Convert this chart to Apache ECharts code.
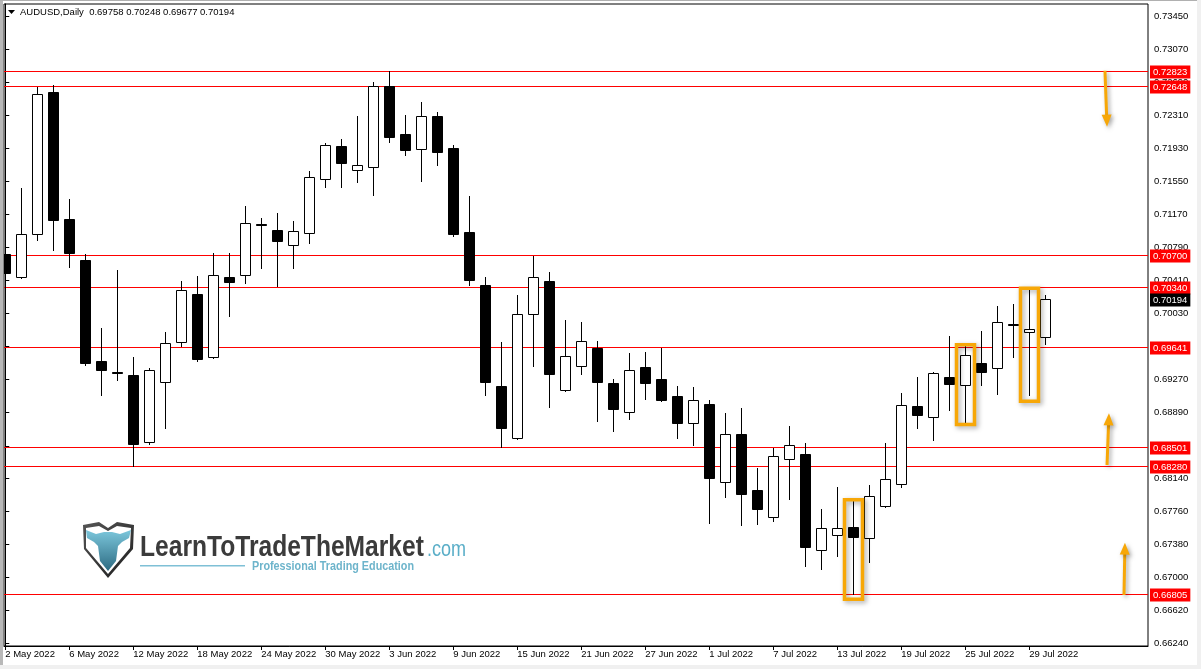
<!DOCTYPE html>
<html>
<head>
<meta charset="utf-8">
<script src="https://cdn.jsdelivr.net/npm/echarts@6.0.0/dist/echarts.min.js"></script>
<style>
html,body{margin:0;padding:0;background:#fff;}
#chart{width:1201px;height:669px;}
</style>
</head>
<body>
<div id="chart"></div>
<script>
// ---------------- data ----------------
const symbol = 'AUDUSD';
const timeframe = 'Daily';

const dates = [
  '2022-05-02','2022-05-03','2022-05-04','2022-05-05','2022-05-06','2022-05-09','2022-05-10','2022-05-11','2022-05-12','2022-05-13',
  '2022-05-16','2022-05-17','2022-05-18','2022-05-19','2022-05-20','2022-05-23','2022-05-24','2022-05-25','2022-05-26','2022-05-27',
  '2022-05-30','2022-05-31','2022-06-01','2022-06-02','2022-06-03','2022-06-06','2022-06-07','2022-06-08','2022-06-09','2022-06-10',
  '2022-06-13','2022-06-14','2022-06-15','2022-06-16','2022-06-17','2022-06-20','2022-06-21','2022-06-22','2022-06-23','2022-06-24',
  '2022-06-27','2022-06-28','2022-06-29','2022-06-30','2022-07-01','2022-07-04','2022-07-05','2022-07-06','2022-07-07','2022-07-08',
  '2022-07-11','2022-07-12','2022-07-13','2022-07-14','2022-07-15','2022-07-18','2022-07-19','2022-07-20','2022-07-21','2022-07-22',
  '2022-07-25','2022-07-26','2022-07-27','2022-07-28','2022-07-29','2022-08-01'
];

const opens = [
  0.70711,0.70447,0.70941,0.72576,0.71117,0.70645,0.69484,0.69355,0.69324,0.68550,
  0.69240,0.69699,0.70255,0.69527,0.70450,0.70470,0.71059,0.70990,0.70814,0.70952,
  0.71573,0.71956,0.71676,0.71718,0.72642,0.72094,0.71918,0.72301,0.71933,0.70967,
  0.70355,0.69197,0.68596,0.70021,0.70404,0.69148,0.69424,0.69637,0.69232,0.68895,
  0.69415,0.69278,0.69082,0.68768,0.68990,0.68088,0.68645,0.68002,0.67688,0.68362,
  0.68416,0.67309,0.67481,0.67576,0.67447,0.67814,0.68071,0.68967,0.68837,0.69301,
  0.69205,0.69462,0.69401,0.69913,0.69814,0.69758
];
const closes = [
  0.70499,0.70944,0.72553,0.71109,0.70729,0.69465,0.69384,0.69347,0.68534,0.69378,
  0.69688,0.70301,0.69511,0.70470,0.70396,0.71067,0.71044,0.70867,0.70975,0.71596,
  0.71964,0.71764,0.71734,0.72642,0.72063,0.71913,0.72297,0.71890,0.70948,0.70419,
  0.69247,0.68718,0.70021,0.70447,0.69332,0.69542,0.69711,0.69247,0.68936,0.69378,
  0.69235,0.69040,0.68775,0.69033,0.68143,0.68643,0.67959,0.67787,0.68389,0.68516,
  0.67350,0.67562,0.67562,0.67465,0.67929,0.68128,0.68975,0.68867,0.69343,0.69224,
  0.69550,0.69362,0.69929,0.69898,0.69856,0.70194
];
const lows = [
  0.70292,0.70440,0.70875,0.70760,0.70568,0.69442,0.69097,0.69270,0.68280,0.68527,
  0.68718,0.69660,0.69488,0.69515,0.70005,0.70384,0.70557,0.70347,0.70557,0.70844,
  0.71488,0.71488,0.71545,0.71396,0.72005,0.71856,0.71557,0.71741,0.70925,0.70362,
  0.69097,0.68501,0.68590,0.69431,0.68959,0.69140,0.69339,0.68798,0.68683,0.68821,
  0.69048,0.69028,0.68603,0.68519,0.67626,0.67925,0.67603,0.67611,0.67642,0.67902,
  0.67132,0.67097,0.67247,0.66805,0.67178,0.67805,0.68036,0.68718,0.68580,0.68925,
  0.68775,0.69212,0.69109,0.69534,0.69097,0.69677
];
const highs = [
  0.70818,0.71473,0.72637,0.72657,0.71347,0.70714,0.69864,0.70530,0.69530,0.69401,
  0.69818,0.70404,0.70462,0.70726,0.70726,0.71266,0.71128,0.71186,0.71094,0.71668,
  0.71990,0.72036,0.72301,0.72691,0.72823,0.72312,0.72462,0.72347,0.71967,0.71381,
  0.70450,0.69703,0.70243,0.70691,0.70507,0.69956,0.69933,0.69714,0.69278,0.69576,
  0.69588,0.69637,0.69197,0.69186,0.69036,0.68887,0.68944,0.68255,0.68481,0.68737,
  0.68542,0.67783,0.68036,0.67875,0.68056,0.68542,0.69113,0.69301,0.69355,0.69772,
  0.69657,0.69829,0.70113,0.70140,0.70301,0.70248
];

// horizontal levels drawn on the chart
const levels = [0.72823, 0.72648, 0.70700, 0.70340, 0.69641, 0.68501, 0.68280, 0.66805];
const currentPrice = 0.70194;

// price scale tick labels
const priceTicks = [0.66240,0.66620,0.67000,0.67380,0.67760,0.68140,0.68510,0.68890,0.69270,0.69650,
  0.70030,0.70410,0.70790,0.71170,0.71550,0.71930,0.72310,0.72690,0.73070,0.73450];
// date labels every 4 bars
const dateTickIdx = [0,4,8,12,16,20,24,28,32,36,40,44,48,52,56,60,64];

// annotation boxes: [bar index, top price, bottom price]
const boxes = [[53, 0.67889, 0.66747], [60, 0.69671, 0.68755], [64, 0.70321, 0.69022]];
// annotation arrows: [tail index, tail price, tip index, tip price]
const arrows = [
  [68.73, 0.72821, 68.86, 0.72178],
  [68.86, 0.68289, 68.98, 0.68883],
  [69.92, 0.66795, 69.98, 0.67396]
];

// ---------------- helpers ----------------
const MONTHS = ['Jan','Feb','Mar','Apr','May','Jun','Jul','Aug','Sep','Oct','Nov','Dec'];
function fmtDate(s){
  const p = s.split('-');
  return parseInt(p[2],10) + ' ' + MONTHS[parseInt(p[1],10)-1] + ' ' + p[0];
}
const FONT = 'Liberation Sans, Arial, sans-serif';
const ORANGE = '#f7a707';

const candleData = dates.map((d,i)=>[i, opens[i], closes[i], lows[i], highs[i]]);
const levelData = levels.map(v=>[v, 1]).concat([[currentPrice, 0]]);

function renderCandle(params, api){
  const i = api.value(0), o = api.value(1), c = api.value(2), l = api.value(3), h = api.value(4);
  const po = api.coord([i,o]);
  const yc = api.coord([i,c])[1];
  const yl = api.coord([i,l])[1];
  const yh = api.coord([i,h])[1];
  const x = Math.round(po[0]);
  const top = Math.round(Math.min(po[1], yc));
  const bot = Math.round(Math.max(po[1], yc));
  const up = c >= o;
  return {type:'group', children:[
    {type:'line', shape:{x1:x+0.5, y1:Math.round(yh), x2:x+0.5, y2:Math.round(yl)+1}, style:{stroke:'#000', lineWidth:1}},
    {type:'rect', shape:{x:x-4.5, y:top+0.5, width:10, height:Math.max(bot-top,1)}, style:{fill: up?'#fff':'#000', stroke:'#000', lineWidth:1}}
  ]};
}

function renderLevel(params, api){
  const v = api.value(0);
  const isLine = api.value(1) === 1;
  const cs = params.coordSys;
  const y = Math.round(api.coord([0, v])[1]);
  const children = [];
  if (isLine) {
    children.push({type:'rect', shape:{x:cs.x, y:y, width:cs.width, height:1}, style:{fill:'#ff0000'}});
  }
  children.push({type:'text', x:cs.x+cs.width+2, y:y+1,
    style:{text:v.toFixed(5), fill:'#fff', backgroundColor: isLine ? '#ff0000' : '#000',
      padding:[2,3,1,3], fontFamily:FONT, fontSize:9.5, verticalAlign:'middle', align:'left'}});
  return {type:'group', children:children};
}

function renderBox(params, api){
  const i = api.value(0);
  const pt = api.coord([i, api.value(1)]);
  const pb = api.coord([i, api.value(2)]);
  const x = Math.round(pt[0]);
  return {type:'rect', shape:{x:x-8.5, y:pt[1], width:18, height:pb[1]-pt[1]},
    style:{fill:null, stroke:ORANGE, lineWidth:3.5, shadowBlur:5, shadowColor:'rgba(0,0,0,0.35)', shadowOffsetX:2, shadowOffsetY:2}};
}

function renderArrow(params, api){
  const a = api.coord([api.value(0), api.value(1)]);
  const b = api.coord([api.value(2), api.value(3)]);
  const dx = b[0]-a[0], dy = b[1]-a[1];
  const len = Math.sqrt(dx*dx+dy*dy);
  const ux = dx/len, uy = dy/len;
  const headL = 12, headW = 5;
  const bx = b[0]-ux*headL, by = b[1]-uy*headL;
  const px = -uy, py = ux;
  const sh = {shadowBlur:4, shadowColor:'rgba(0,0,0,0.35)', shadowOffsetX:2, shadowOffsetY:2};
  return {type:'group', children:[
    {type:'line', shape:{x1:a[0], y1:a[1], x2:bx+ux, y2:by+uy}, style:Object.assign({stroke:ORANGE, lineWidth:3}, sh)},
    {type:'polygon', shape:{points:[[b[0],b[1]],[bx+px*headW, by+py*headW],[bx-px*headW, by-py*headW]]}, style:Object.assign({fill:ORANGE}, sh)}
  ]};
}

const labelFont = {fontFamily:FONT, fontSize:9.5, color:'#000'};

const last = dates.length-1;
const headerText = symbol + ',' + timeframe + '  ' + [opens[last], highs[last], lows[last], closes[last]].map(v=>v.toFixed(5)).join(' ');

const chart = echarts.init(document.getElementById('chart'), null, {renderer:'canvas'});
chart.setOption({
  animation:false,
  backgroundColor:'#fff',
  grid:{left:4, top:4, right:53, bottom:23, show:true, borderColor:'#000', borderWidth:1, backgroundColor:'#fff'},
  xAxis:{
    type:'value', min:-0.08, max:71.42,
    splitLine:{show:false},
    axisLine:{show:true, lineStyle:{color:'#000', width:1}},
    axisTick:{show:true, customValues:dateTickIdx, length:4, lineStyle:{color:'#000'}},
    axisLabel:Object.assign({customValues:dateTickIdx, formatter:v=>fmtDate(dates[v]), align:'left', margin:3}, labelFont)
  },
  yAxis:{
    type:'value', position:'right', min:0.662086, max:0.735879, scale:true,
    splitLine:{show:false},
    axisLine:{show:true, lineStyle:{color:'#000', width:1}},
    axisTick:{show:true, customValues:priceTicks, length:4, lineStyle:{color:'#000'}},
    axisLabel:Object.assign({customValues:priceTicks, formatter:v=>v.toFixed(5), margin:6}, labelFont)
  },
  series:[
    {type:'custom', name:'levels', renderItem:renderLevel, data:levelData, clip:false, z:2, silent:true,
      encode:{y:0}},
    {type:'custom', name:'candles', renderItem:renderCandle, data:candleData, clip:true, z:3, silent:true,
      encode:{x:0, y:[1,2,3,4]}},
    {type:'custom', name:'boxes', renderItem:renderBox, data:boxes, clip:false, z:5, silent:true, encode:{x:0, y:[1,2]}},
    {type:'custom', name:'arrows', renderItem:renderArrow, data:arrows, clip:false, z:5, silent:true, encode:{x:[0,2], y:[1,3]}}
  ],
  graphic:[
    // window edges
    {type:'rect', shape:{x:0, y:0, width:3, height:669}, style:{fill:'#b8b8b8'}, silent:true},
    {type:'rect', shape:{x:0, y:0, width:1201, height:1}, style:{fill:'#b0b0b0'}, silent:true},
    {type:'rect', shape:{x:0, y:665, width:1201, height:4}, style:{fill:'#f0f0f0'}, silent:true},
    {type:'rect', shape:{x:1197, y:0, width:4, height:669}, style:{fill:'#f0f0f0'}, silent:true},
    // header
    {type:'polygon', shape:{points:[[8,10],[15,10],[11.5,14]]}, style:{fill:'#000'}, silent:true},
    {type:'text', x:20, y:12.5, style:{text:headerText, fontFamily:FONT, fontSize:9.5, fill:'#000', verticalAlign:'middle'}, silent:true},
    // logo shield
    {type:'polygon', shape:{points:[[83,525],[99,522],[108,528],[117,522],[134,525],[133,549],[108,578],[84,549]]},
      style:{fill:new echarts.graphic.LinearGradient(0,0,1,1,[{offset:0,color:'#555'},{offset:1,color:'#1e1e1e'}])}, silent:true},
    {type:'polygon', shape:{points:[[86,528],[99,526],[108,531],[117,526],[131,528],[130,548],[108,574],[86,548]]},
      style:{fill:'#fff'}, silent:true},
    {type:'polygon', shape:{points:[[86,530],[96,534],[104,532],[112,532],[120,534],[131,530],[129,538],[122,542],[118,546],[116,561],[108,571],[100,561],[98,546],[94,542],[87,538]]},
      style:{fill:new echarts.graphic.LinearGradient(0,0,0,1,[{offset:0,color:'#7cc7dc'},{offset:1,color:'#2d6b82'}])}, silent:true},
    // logo text
    {type:'text', x:140, y:547.5, scaleX:0.82, style:{text:'LearnToTradeTheMarket', fontFamily:FONT, fontWeight:'bold', fontSize:30, fill:'#3b3b3b', verticalAlign:'middle'}, silent:true},
    {type:'text', x:427, y:550, scaleX:0.82, style:{text:'.com', fontFamily:FONT, fontSize:22, fill:'#5aaec8', verticalAlign:'middle'}, silent:true},
    {type:'rect', shape:{x:140, y:565, width:105, height:1.5}, style:{fill:'#7fc0d6'}, silent:true},
    {type:'text', x:252, y:566, scaleX:0.8, style:{text:'Professional Trading Education', fontFamily:FONT, fontWeight:'bold', fontSize:13.5, fill:'#6db4cb', verticalAlign:'middle'}, silent:true}
  ]
});
</script>
</body>
</html>
